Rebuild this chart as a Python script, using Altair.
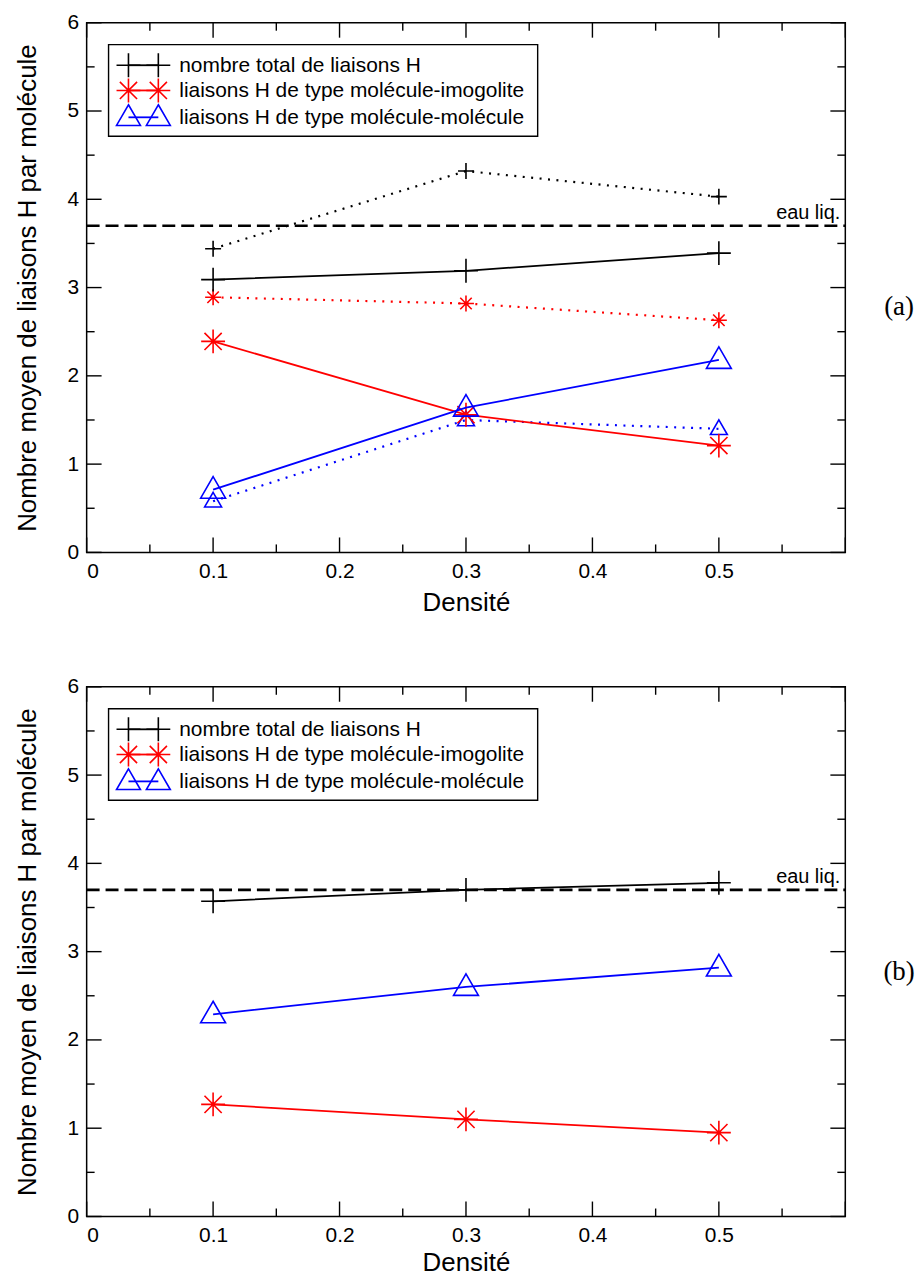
import altair as alt
import pandas as pd

# ---------------- data ----------------
density = [0.1, 0.3, 0.5]

# panel (a)
a_total_solid = [3.09, 3.19, 3.39]
a_total_dot = [3.44, 4.32, 4.03]
a_imo_solid = [2.39, 1.56, 1.21]
a_imo_dot = [2.89, 2.82, 2.63]
a_mol_solid = [0.71, 1.64, 2.18]
a_mol_dot = [0.58, 1.50, 1.40]

# panel (b)
b_total = [3.57, 3.70, 3.78]
b_imo = [1.27, 1.10, 0.95]
b_mol = [2.29, 2.60, 2.82]

eau_liq = [3.7]
eau_liq_label = "eau liq."

legend_labels = [
    "nombre total de liaisons H",
    "liaisons H de type molécule-imogolite",
    "liaisons H de type molécule-molécule",
]
panel_labels = ["(a)", "(b)"]

x_labels = [0, 0.1, 0.2, 0.3, 0.4, 0.5]
x_major = [0, 0.1, 0.2, 0.3, 0.4, 0.5, 0.6]
x_minor = [0.05, 0.15, 0.25, 0.35, 0.45, 0.55]
y_major = [0, 1, 2, 3, 4, 5, 6]
y_minor = [0.5, 1.5, 2.5, 3.5, 4.5, 5.5]

# ---------------- styles ----------------
W, H = 762, 532
FONT = "Liberation Sans"
PLUS = "M-1,0L1,0M0,-1L0,1"
STAR = "M-1,0L1,0M0,-1L0,1M-0.72,-0.72L0.72,0.72M-0.72,0.72L0.72,-0.72"
TRI = "M0,-1.05L1,0.68L-1,0.68Z"
BLACK, RED, BLUE = "#000000", "#ff0000", "#0000ff"
BIG, SMALL = 576, 256
DOT = [2, 6.5]

xs = alt.Scale(domain=[0, 0.6], nice=False, zero=False)
ys = alt.Scale(domain=[0, 6], nice=False, zero=False)
y_axis = alt.Axis(values=y_major, format="d",
                  title="Nombre moyen de liaisons H par molécule",
                  labelPadding=8, titlePadding=27)


def make_x_axis(title_pad):
    return alt.Axis(values=x_labels, format="~g", title="Densité", labelPadding=8,
                    titlePadding=title_pad)


def panel(series, plabel, title_pad):
    x_axis = make_x_axis(title_pad)

    def X(field):
        return alt.X(field, type="quantitative", scale=xs, axis=x_axis)

    def Y(field):
        return alt.Y(field, type="quantitative", scale=ys, axis=y_axis)

    one = alt.Data(values=[{}])
    layers = []

    # legend box
    layers.append(alt.Chart(one).mark_rect(fill="white", stroke=BLACK, strokeWidth=1.4).encode(
        x=alt.value(22), x2=alt.value(453), y=alt.value(22), y2=alt.value(114)))
    rows = [(42.7, BLACK, PLUS), (68.0, RED, STAR), (95.0, BLUE, TRI)]
    for (ry, color, shape), label in zip(rows, legend_labels):
        layers.append(alt.Chart(one).mark_rule(color=color, strokeWidth=1.8).encode(
            x=alt.value(42), x2=alt.value(72), y=alt.value(ry)))
        for mx in (42, 72):
            layers.append(alt.Chart(one).mark_point(
                shape=shape, size=BIG, filled=False, color=color,
                strokeWidth=1.6, opacity=1).encode(x=alt.value(mx), y=alt.value(ry)))
        layers.append(alt.Chart(one).mark_text(
            text=label, font=FONT, fontSize=21, align="left", baseline="middle",
            color=BLACK).encode(x=alt.value(93), y=alt.value(ry + 1)))

    # reference line for liquid water
    eau = pd.DataFrame({"y": eau_liq})
    layers.append(alt.Chart(eau).mark_rule(color=BLACK, strokeWidth=2.6,
                                           strokeDash=[13, 6]).encode(
        y=Y("y"), x=alt.value(0), x2=alt.value(W)))
    layers.append(alt.Chart(eau).mark_text(text=eau_liq_label, font=FONT, fontSize=20,
                                           align="right", baseline="alphabetic",
                                           dy=-7, color=BLACK).encode(
        y=Y("y"), x=alt.value(W - 5)))

    # data series
    for values, color, shape, size, dotted in series:
        df = pd.DataFrame({"x": density, "y": values})
        line_kw = dict(color=color, strokeWidth=1.8)
        if dotted:
            line_kw["strokeDash"] = DOT
            line_kw["strokeWidth"] = 2.2
        layers.append(alt.Chart(df).mark_line(**line_kw).encode(x=X("x"), y=Y("y")))
        layers.append(alt.Chart(df).mark_point(shape=shape, size=size, filled=False,
                                               color=color, strokeWidth=1.6,
                                               opacity=1).encode(x=X("x"), y=Y("y")))

    # inward ticks on all four sides
    xm = pd.DataFrame({"t": x_major})
    xn = pd.DataFrame({"t": x_minor})
    ym = pd.DataFrame({"t": y_major})
    yn = pd.DataFrame({"t": y_minor})
    for df, L in ((xm, 15), (xn, 8)):
        layers.append(alt.Chart(df).mark_rule(color=BLACK, strokeWidth=1.4).encode(
            x=X("t"), y=alt.value(H), y2=alt.value(H - L)))
        layers.append(alt.Chart(df).mark_rule(color=BLACK, strokeWidth=1.4).encode(
            x=X("t"), y=alt.value(0), y2=alt.value(L)))
    for df, L in ((ym, 15), (yn, 8)):
        layers.append(alt.Chart(df).mark_rule(color=BLACK, strokeWidth=1.4).encode(
            y=Y("t"), x=alt.value(0), x2=alt.value(L)))
        layers.append(alt.Chart(df).mark_rule(color=BLACK, strokeWidth=1.4).encode(
            y=Y("t"), x=alt.value(W), x2=alt.value(W - L)))

    # panel label
    layers.append(alt.Chart(one).mark_text(
        text=plabel, font="Liberation Serif", fontSize=27, align="center",
        baseline="middle", color=BLACK).encode(x=alt.value(816), y=alt.value(286)))
    return alt.layer(*layers).properties(width=W, height=H)


series_a = [
    (a_total_dot, BLACK, PLUS, SMALL, True),
    (a_imo_dot, RED, STAR, SMALL, True),
    (a_mol_dot, BLUE, TRI, 289, True),
    (a_total_solid, BLACK, PLUS, BIG, False),
    (a_imo_solid, RED, STAR, BIG, False),
    (a_mol_solid, BLUE, TRI, 625, False),
]
series_b = [
    (b_total, BLACK, PLUS, BIG, False),
    (b_imo, RED, STAR, BIG, False),
    (b_mol, BLUE, TRI, 625, False),
]

chart = alt.vconcat(panel(series_a, panel_labels[0], 8),
                    panel(series_b, panel_labels[1], 4),
                    spacing=59).properties(
    padding={"left": 5, "top": 0, "right": 0, "bottom": 0}
).configure_view(stroke=BLACK, strokeWidth=1.5).configure_axis(
    grid=False, domain=False, ticks=False, tickSize=0,
    labelFont=FONT, titleFont=FONT, labelFontSize=21, titleFontSize=26,
    labelColor=BLACK, titleColor=BLACK, titleFontWeight="normal"
)

chart.save("out.html", embed_options={"renderer": "svg", "actions": False})
